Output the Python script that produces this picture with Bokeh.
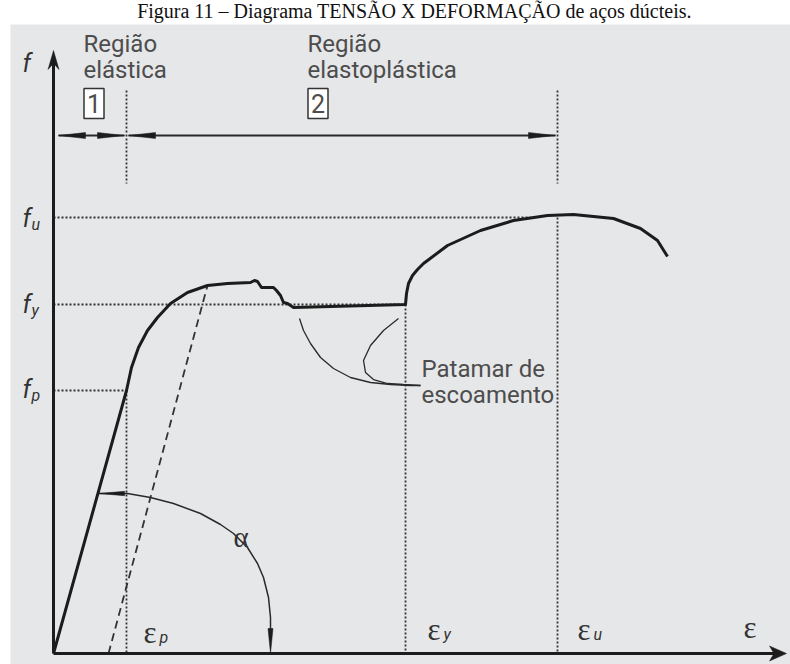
from bokeh.plotting import figure
from bokeh.models import Range1d
from bokeh.core.properties import value
from bokeh.embed import file_html
from bokeh.resources import INLINE

# ---------------- values (schematic units) ----------------
EPS_P, EPS_Y, EPS_U = 7.3, 35.2, 50.4      # strain marks
F_P, F_Y, F_U = 26.3, 34.9, 43.6           # stress marks
EPS_AXIS_END, F_AXIS_END = 73.3, 60.3      # axis arrow tips
REGION_ARROW_Y = 51.8                      # level of region arrows
REGION_TOP = 56.3                          # top of the upper dotted marks
REGION_BOTTOM = 47.0
F_U_DOT_END = 47.7

# stress-strain curve of a ductile steel
curve_eps = [0.0, 7.3, 7.8, 8.5, 9.4, 10.4, 11.7, 13.4, 15.4, 17.4, 19.7, 20.1, 20.4,
             20.8, 22.0, 22.3, 22.7, 23.0, 23.4, 24.0, 35.2, 35.3, 35.5, 35.9,
             36.4, 37.0, 39.4, 42.7, 46.0, 49.4, 52.0, 56.0, 58.7, 60.4, 61.4]
curve_f = [0.0, 26.3, 28.6, 30.6, 32.3, 33.6, 35.0, 36.1, 36.8, 37.0, 37.1, 37.3, 37.2,
           36.6, 36.6, 36.3, 35.8, 35.1, 35.0, 34.6, 34.9, 36.0, 37.0, 37.8,
           38.4, 39.0, 40.8, 42.3, 43.3, 43.8, 43.9, 43.5, 42.5, 41.3, 39.7]

# dashed line parallel to the elastic branch
offset_eps = [5.5, 15.4]
offset_f = [0.0, 36.8]

# angle alpha arc
arc_eps = [4.5, 7.4, 9.7, 12.0, 14.7, 16.7, 18.0, 19.4, 20.4, 21.0, 21.5, 21.7, 21.7]
arc_f = [16.0, 16.0, 15.6, 15.0, 14.0, 12.9, 12.0, 10.6, 9.0, 7.6, 5.6, 3.6, 2.3]

# leader lines of "Patamar de escoamento"
leadA_eps = [24.6, 25.0, 25.7, 26.7, 28.0, 29.7, 31.7, 33.7, 35.7, 36.7]
leadA_f = [33.5, 32.3, 31.0, 29.6, 28.5, 27.6, 27.1, 26.9, 26.8, 26.8]
leadB_eps = [34.5, 33.0, 31.7, 31.0, 31.2, 32.0, 33.4, 35.0, 36.7]
leadB_f = [33.5, 32.3, 30.8, 29.3, 28.1, 27.4, 27.0, 26.9, 26.8]

# labels
caption = "Figura 11 – Diagrama TENSÃO X DEFORMAÇÃO de aços dúcteis."
region_labels = [["Região", "elástica"], ["Região", "elastoplástica"]]
region_x = [3.0, 25.4]
region_nums = ["1", "2"]
f_labels_sub = ["", "u", "y", "p"]
f_labels_y = [58.1, 42.6, 34.0, 25.5]
eps_labels_sub = ["p", "y", "u", ""]
eps_labels_x = [9.0, 37.4, 52.4, 69.0]
eps_labels_y = [1.3, 1.6, 1.6, 1.8]
patamar_lines = ["Patamar de", "escoamento"]

# ---------------- styles ----------------
SANS = "Roboto"
SERIF = "Liberation Serif"
INK = "#1c1c1c"
TXT = "#4d4d4d"
BG = "#e6e7e9"
PX = 0.1            # data units per pixel
RAISE = 0.37        # baseline correction, in ems


def up(ys, size):
    return [y + RAISE * size * PX for y in ys]


p = figure(width=790, height=664, x_range=Range1d(-5.3, 73.7), y_range=Range1d(-1.1, 65.3),
           output_backend="svg", toolbar_location=None, min_border=0,
           x_axis_type=None, y_axis_type=None, outline_line_color=None,
           background_fill_color="white", border_fill_color="white")
p.grid.visible = False

# grey panel of the figure
p.quad(left=[-4.3], right=[75.0], top=[62.9], bottom=[-2.0], fill_color=BG, line_color=None)

# caption
p.text(x=[36.1], y=up([63.5], 20), text=[caption], text_font=value(SERIF), text_font_size="20px",
       text_color="#111111", text_baseline="alphabetic", text_align="center")


def wedge(tx, ty, dx, dy, length, half, notch=None):
    bx, by = tx - dx * length, ty - dy * length
    px, py = -dy, dx
    xs = [tx, bx + px * half]
    ys = [ty, by + py * half]
    if notch is not None:
        xs.append(tx - dx * notch)
        ys.append(ty - dy * notch)
    xs.append(bx - px * half)
    ys.append(by - py * half)
    return xs, ys


# dotted reference lines
dot_xs = [[EPS_P, EPS_P], [EPS_P, EPS_P], [EPS_Y, EPS_Y], [EPS_U, EPS_U], [EPS_U, EPS_U],
          [0, F_U_DOT_END], [0, EPS_Y], [0, EPS_P]]
dot_ys = [[REGION_TOP, REGION_BOTTOM], [F_P, 0], [F_Y, 0], [REGION_TOP, REGION_BOTTOM], [F_U, 0],
          [F_U, F_U], [F_Y, F_Y], [F_P, F_P]]
p.multi_line(dot_xs, dot_ys, line_color="#333333", line_width=1.8, line_dash="2 2")

# dashed offset line
p.line(offset_eps, offset_f, line_color="#333333", line_width=1.8, line_dash="8 5")

# leader lines
p.line(leadA_eps, leadA_f, line_color="#2a2a2a", line_width=1.3)
p.line(leadB_eps, leadB_f, line_color="#2a2a2a", line_width=1.3)

# arc alpha
p.line(arc_eps, arc_f, line_color="#2a2a2a", line_width=1.5)

# main curve
p.line(curve_eps, curve_f, line_color=INK, line_width=3, line_join="round")

# axes
p.line([0, 0], [0, F_AXIS_END - 1.2], line_color=INK, line_width=3)
p.line([0, EPS_AXIS_END - 1.0], [0, 0], line_color=INK, line_width=3)

heads_x, heads_y = [], []
for hx, hy in [wedge(0, F_AXIS_END, 0, 1, 1.9, 0.55, 1.3),
               wedge(EPS_AXIS_END, 0, 1, 0, 1.7, 0.75, 1.25),
               wedge(arc_eps[0], arc_f[0], -1, 0, 2.6, 0.22),
               wedge(arc_eps[-1], 0.0, 0, -1, 2.5, 0.25)]:
    heads_x.append(hx)
    heads_y.append(hy)

# region arrows
a1 = (0.5, EPS_P - 0.2)
a2 = (EPS_P + 0.2, EPS_U - 0.2)
p.multi_line([[a1[0], a1[1]], [a2[0], a2[1]]], [[REGION_ARROW_Y] * 2] * 2, line_color="#2a2a2a", line_width=2)
for lo, hi in [a1, a2]:
    for tip, d in [(lo, -1), (hi, 1)]:
        hx, hy = wedge(tip, REGION_ARROW_Y, d, 0, 2.7, 0.3)
        heads_x.append(hx)
        heads_y.append(hy)
p.patches(heads_x, heads_y, fill_color=INK, line_color=INK, line_width=0.5)

# region labels
for lbl, rx in zip(region_labels, region_x):
    p.text(x=[rx, rx], y=up([60.1, 57.5], 24), text=lbl, text_font=value(SANS), text_font_size="24px",
           text_color=TXT, text_baseline="alphabetic", text_align="left")

# numbered boxes
box_left = [rx + 0.05 for rx in region_x]
p.quad(left=box_left, right=[b + 2.0 for b in box_left], top=[56.5] * 2, bottom=[53.5] * 2,
       fill_color="white", line_color="#333333", line_width=1.5)
p.text(x=[b + 1.0 for b in box_left], y=[55.0] * 2, text=region_nums, text_font=value(SANS),
       text_font_size="25px", text_color=TXT, text_baseline="middle", text_align="center")

# stress labels
p.text(x=[-3.1] * 4, y=up(f_labels_y, 25), text=["f"] * 4, text_font=value(SANS), text_font_style="italic",
       text_font_size="25px", text_color="#333333", text_baseline="alphabetic")
p.text(x=[-2.2] * 3, y=up([fy - 0.3 for fy in f_labels_y[1:]], 16), text=f_labels_sub[1:],
       text_font=value(SANS), text_font_style="italic", text_font_size="16px",
       text_color="#333333", text_baseline="alphabetic")

# strain labels
p.text(x=eps_labels_x, y=[y + 0.8 for y in eps_labels_y], text=["ε"] * 4, text_font=value(SERIF),
       text_font_size="31px", text_color="#333333", text_baseline="alphabetic")
p.text(x=[ex + 1.6 for ex in eps_labels_x[:3]], y=up([y - 0.3 for y in eps_labels_y[:3]], 16),
       text=eps_labels_sub[:3], text_font=value(SANS), text_font_style="italic", text_font_size="16px",
       text_color="#333333", text_baseline="alphabetic")

# alpha
p.text(x=[18.0], y=up([10.6], 29), text=["α"], text_font=value(SERIF), text_font_size="29px",
       text_color="#333333", text_baseline="alphabetic")

# yield plateau label
p.text(x=[36.8, 36.8], y=up([27.6, 25.0], 24), text=patamar_lines, text_font=value(SANS),
       text_font_size="24px", text_color=TXT, text_baseline="alphabetic")

open("out.html", "w").write(file_html(p, INLINE))
